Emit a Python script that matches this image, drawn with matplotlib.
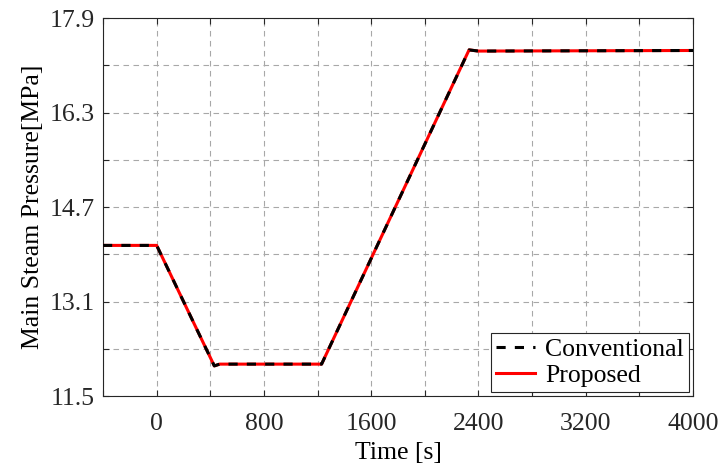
import matplotlib.pyplot as plt
from matplotlib.ticker import FixedLocator, FixedFormatter

plt.rcParams['font.family'] = ['Liberation Serif', 'DejaVu Serif']

# Main steam pressure trajectory (time in s, pressure in MPa)
t_conv = [-400, 0, 430, 470, 1230, 2330, 2400, 4000]
p_conv = [14.05, 14.05, 12.01, 12.04, 12.04, 17.36, 17.34, 17.35]
t_prop = [-400, 0, 430, 470, 1230, 2330, 2400, 4000]
p_prop = [14.05, 14.05, 12.01, 12.04, 12.04, 17.36, 17.34, 17.35]

x_ticks = [-400, 0, 400, 800, 1200, 1600, 2000, 2400, 2800, 3200, 3600, 4000]
x_labels = ['', '0', '', '800', '', '1600', '', '2400', '', '3200', '', '4000']
y_ticks = [11.5, 12.3, 13.1, 13.9, 14.7, 15.5, 16.3, 17.1, 17.9]
y_labels = ['11.5', '', '13.1', '', '14.7', '', '16.3', '', '17.9']

FS = 18.5

fig = plt.figure(figsize=(7.23, 4.70), dpi=100)
ax = fig.add_axes([0.1425, 0.1574, 0.8160, 0.8043])

ax.plot(t_prop, p_prop, color='#ff0000', lw=2.2, label='Proposed', zorder=3)
ax.plot(t_conv, p_conv, color='black', lw=2.2, ls=(0, (3.0, 3.0)),
        label='Conventional', zorder=4)

ax.set_xlim(-400, 4000)
ax.set_ylim(11.5, 17.9)
ax.xaxis.set_major_locator(FixedLocator(x_ticks))
ax.xaxis.set_major_formatter(FixedFormatter(x_labels))
ax.yaxis.set_major_locator(FixedLocator(y_ticks))
ax.yaxis.set_major_formatter(FixedFormatter(y_labels))
ax.tick_params(direction='in', length=4, width=0.8, top=True, right=True,
               labelsize=FS, colors='#262626')
ax.tick_params(axis='x', pad=12)
ax.tick_params(axis='y', pad=6)

ax.grid(True, ls=(0, (5, 4)), color='#a8a8a8', lw=0.8)
for s in ax.spines.values():
    s.set_color('#262626')
    s.set_linewidth(0.8)

ax.set_xlabel('Time [s]', fontsize=FS, labelpad=5)
ax.set_ylabel('Main Steam Pressure[MPa]', fontsize=FS, labelpad=4)

handles, labels = ax.get_legend_handles_labels()
leg = ax.legend(handles[::-1], labels[::-1], loc='lower right', fontsize=FS,
                fancybox=False, edgecolor='#262626', framealpha=1,
                borderpad=0.2, labelspacing=0.1, handlelength=1.5,
                handletextpad=0.4, borderaxespad=0.15)
leg.get_frame().set_linewidth(0.8)

fig.savefig('out.png', dpi=100)
